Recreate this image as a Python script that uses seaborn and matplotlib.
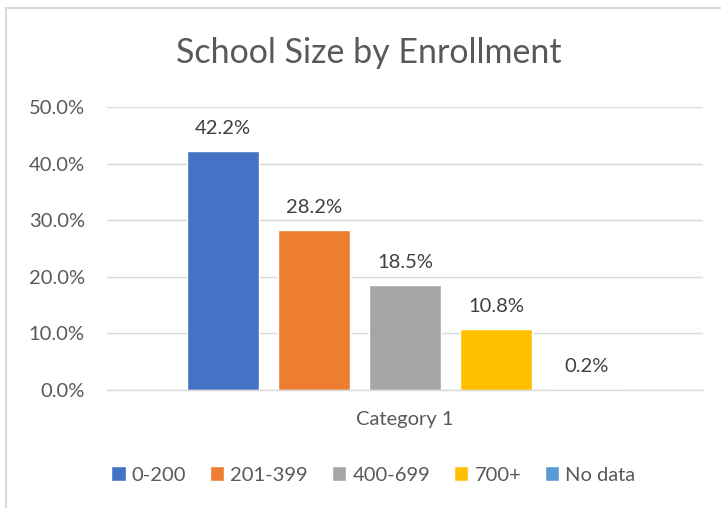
import matplotlib
matplotlib.use("Agg")
import matplotlib.pyplot as plt
import seaborn as sns
import pandas as pd
from matplotlib.patches import Rectangle
from matplotlib.ticker import PercentFormatter, MultipleLocator

categories = ["Category 1"]
series = ["0-200", "201-399", "400-699", "700+", "No data"]
values = [42.2, 28.2, 18.5, 10.8, 0.2]
colors = ["#4472C4", "#ED7D31", "#A5A5A5", "#FFC000", "#5B9BD5"]
title = "School Size by Enrollment"

df = pd.DataFrame({
    "category": categories * len(series),
    "series": series,
    "value": values,
})

sns.set_theme(style="white")
plt.rcParams["font.family"] = ["Lato", "DejaVu Sans"]

W, H = 721, 508
fig = plt.figure(figsize=(W / 100, H / 100), dpi=100)
ax = fig.add_axes([107 / W, 1 - 390 / H, (703 - 107) / W, (390 - 107) / H])

sns.barplot(data=df, x="category", y="value", hue="series", palette=colors,
            width=0.7634, gap=0.209, ax=ax, legend=True, saturation=1)

FS = 14.5
ax.set_ylim(0, 50)
ax.set_xlim(-0.5, 0.5)
ax.yaxis.set_major_locator(MultipleLocator(10))
ax.yaxis.set_major_formatter(PercentFormatter(decimals=1))
ax.grid(axis="y", color="#D9D9D9", linewidth=1)
ax.set_axisbelow(True)
for s in ["top", "right", "left"]:
    ax.spines[s].set_visible(False)
ax.spines["bottom"].set_color("#D9D9D9")
ax.spines["bottom"].set_linewidth(1)
ax.tick_params(axis="both", length=0, labelsize=FS, colors="#595959")
ax.tick_params(axis="y", pad=16)
ax.tick_params(axis="x", pad=15)
ax.set_xlabel("")
ax.set_ylabel("")

for cont in ax.containers:
    ax.bar_label(cont, labels=[f"{v:.1f}%" for v in cont.datavalues],
                 padding=10, fontsize=FS, color="#404040")

handles, labels = ax.get_legend_handles_labels()
ax.get_legend().remove()
fig.legend(handles, labels, loc="center", bbox_to_anchor=(373.5 / W, 1 - 475 / H),
           ncol=5, frameon=False, fontsize=FS, handlelength=0.7, handleheight=0.7,
           handletextpad=0.3, columnspacing=1.2, labelcolor="#595959")

fig.text(369 / W, 1 - 63 / H, title, ha="center", va="baseline", fontsize=24.5,
         color="#595959")

fig.patches.append(Rectangle((6 / W, -0.1), 1.2, 1 - 8 / H + 0.1,
                             transform=fig.transFigure, fill=False,
                             edgecolor="#D9D9D9", linewidth=1.5))

fig.savefig("out.png", dpi=100)
